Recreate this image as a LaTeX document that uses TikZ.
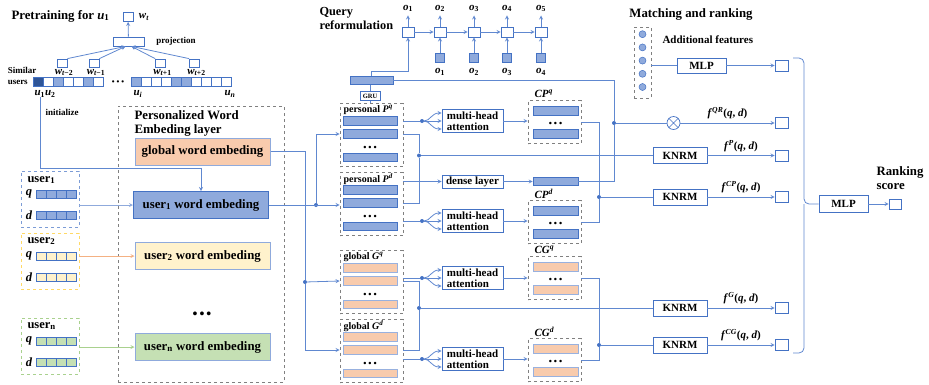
\documentclass[tikz,border=0pt]{standalone}
\usepackage{amsmath}
\usepackage{fontspec}
\setmainfont{Liberation Serif}
\usepackage{tikz}
\usetikzlibrary{positioning,arrows}
\definecolor{wireblue}{RGB}{96,136,208}
\definecolor{barblue}{RGB}{143,170,220}
\definecolor{edgeblue}{RGB}{68,114,196}
\definecolor{darkblue}{RGB}{47,85,151}
\definecolor{peach}{RGB}{248,203,173}
\definecolor{cream}{RGB}{255,242,204}
\definecolor{creamedge}{RGB}{255,217,102}
\definecolor{mint}{RGB}{197,224,180}
\definecolor{mintedge}{RGB}{169,209,142}
\definecolor{orangeline}{RGB}{244,177,131}
\definecolor{framegray}{RGB}{128,128,128}
\newcommand{\bigdots}{\textbullet\hspace{2pt}\textbullet\hspace{2pt}\textbullet}
\newcommand{\fs}[2]{\fontsize{#1}{#2}\selectfont\bfseries}
\newcommand{\vi}[1]{\textit{#1}}
\newcommand{\vsub}[2]{\textit{#1}\textsubscript{#2}}
\newcommand{\vsup}[2]{\textit{#1}\textsuperscript{\textit{#2}}}
\newcommand{\score}[1]{\vsup{f}{#1}(\vi{q}, \vi{d})}

\begin{document}
\begin{tikzpicture}[x=1pt,y=-1pt,font=\fs{11}{13}]
    \tikzstyle{wire} = [draw=wireblue, line width=0.8pt]
    \tikzstyle{arrow} = [wire,->,>=stealth]
    \tikzstyle{dframe} = [draw=framegray, dashed, line width=0.7pt, inner sep=0pt]
    \tikzstyle{box} = [draw=edgeblue, fill=white, line width=0.8pt, inner sep=1pt]
    \tikzstyle{bbar} = [draw=edgeblue, fill=barblue, line width=0.6pt, minimum width=54pt, minimum height=8.5pt, inner sep=0pt]
    \tikzstyle{obar} = [bbar, draw=edgeblue!55, fill=peach]
    \tikzstyle{cell} = [draw=edgeblue, line width=0.5pt, minimum width=10pt, minimum height=8.5pt, inner sep=0pt]
    \tikzstyle{sq} = [draw=edgeblue, line width=0.8pt, minimum width=13pt, minimum height=11pt, inner sep=0pt]
    \tikzstyle{jdot} = [circle, fill=edgeblue, inner sep=0pt, minimum size=4pt]
    \tikzstyle{emb} = [draw=barblue, line width=1pt, minimum width=135pt, minimum height=27pt, font=\fs{12.8}{13}]
    \tikzstyle{mha} = [box, align=left, minimum width=61pt, minimum height=23pt, font=\fs{11}{11.5}]
    \tikzstyle{txts} = [font=\fs{9}{10.5}]
    \tikzstyle{mlab} = [font=\fs{11}{11}]
    \tikzstyle{flab} = [above=0pt, font=\fs{11}{11}]
    \useasboundingbox (0,0) rectangle (929,384);

    % pretraining for u1
    \node[anchor=west, font=\fs{12.8}{13}] (pt) at (8,16) {Pretraining for \vsub{u}{1}};
    \node[sq, minimum width=10pt, minimum height=9pt] (wt) at (128,17) {};
    \node[mlab] (wtl) [right=2pt of wt] {\vsub{w}{\textit{t}}};
    \node[box, minimum width=31pt, minimum height=9pt, inner sep=0pt] (proj) at (128.5,41.5) {};
    \node[txts] (projl) at (176,41) {projection};
    \node[sq, minimum width=10pt, minimum height=8pt] (c1) at (62,63) {};
    \node[sq, minimum width=10pt, minimum height=8pt] (c2) at (94,63) {};
    \node[sq, minimum width=10pt, minimum height=8pt] (c3) at (160.5,63) {};
    \node[sq, minimum width=10pt, minimum height=8pt] (c4) at (194.5,63) {};
    \node[mlab] (c1l) at (64,72.5) {\vsub{w}{\textit{t}−2}};
    \node[mlab] (c2l) at (96,72.5) {\vsub{w}{\textit{t}−1}};
    \node[mlab] (c3l) at (162.5,72.5) {\vsub{w}{\textit{t}+1}};
    \node[mlab] (c4l) at (196.5,72.5) {\vsub{w}{\textit{t}+2}};
    \draw[arrow] (c1.north east) -- ([xshift=-3pt]proj.south);
    \draw[arrow] (c2.north east) -- ([xshift=-3pt]proj.south);
    \draw[arrow] (c3.north west) -- ([xshift=3pt]proj.south);
    \draw[arrow] (c4.north west) -- ([xshift=3pt]proj.south);
    \draw[arrow] (proj) -- (wt);
    \node[txts, align=left] (sim) at (22,76) {Similar\\users};
    \foreach \i/\c in {1/darkblue,2/white,3/barblue,4/white,5/white,6/barblue,7/white}
        \node[cell, fill=\c] (ul\i) at (28+10*\i,81.5) {};
    \foreach \i/\c in {1/barblue,2/white,3/white,4/white,5/barblue,6/barblue,7/white,8/white,9/white,10/white}
        \node[cell, fill=\c] (ur\i) at (126+10*\i,81.5) {};
    \node[font=\fs{8}{8}] (sdots) at (118,83) {\bigdots};
    \node[mlab] (u12) at (45,94) {\vsub{u}{1}\vsub{u}{2}};
    \node[mlab] (ui) at (138,94) {\vsub{u}{\textit{i}}};
    \node[mlab] (un) at (230,94) {\vsub{u}{\textit{n}}};
    \node[txts] (inil) at (62,112) {initialize};

    % personalized word embedding layer
    \node[dframe, minimum width=166pt, minimum height=276pt] (pwe) at (201,244) {};
    \node[anchor=north west, align=left, font=\fs{12.8}{14}] (pwel) at (131,107) {Personalized Word\\Embeding layer};
    \node[emb, fill=peach] (ge) at (202.5,151.5) {global word embeding};
    \node[emb, fill=barblue, draw=edgeblue] (e1) at (201,205) {user\textsubscript{1} word embeding};
    \node[emb, fill=cream] (e2) at (202.5,256) {user\textsubscript{2} word embeding};
    \node[font=\fs{14}{14}] (edots) at (202,315) {\bigdots};
    \node[emb, fill=mint] (en) at (202.5,347) {user\textsubscript{n} word embeding};
    \coordinate (ini) at (40,97);
    \draw[arrow] (ini) |- ([yshift=23pt]e1.north) -- (e1.north);

    % users
    \node[dframe, draw=edgeblue!70, minimum width=58pt, minimum height=56pt] (ub1) at (50,199) {};
    \node[dframe, draw=creamedge, minimum width=58pt, minimum height=56pt] (ub2) at (50,261) {};
    \node[dframe, draw=mintedge, minimum width=58pt, minimum height=56pt] (ubn) at (50,346) {};
    \node[anchor=west, font=\fs{12.5}{13}] (un1) at (24,180) {user\textsubscript{1}};
    \node[anchor=west, font=\fs{12.5}{13}] (un2) at (24,241) {user\textsubscript{2}};
    \node[anchor=west, font=\fs{12.5}{13}] (unn) at (24,326) {user\textsubscript{n}};
    \foreach \yy/\c/\t [count=\k] in {194/barblue/q,215/barblue/d,256/cream/q,277/cream/d,341/mint/q,362/mint/d} {
        \node[font=\fs{12.5}{12.5}] (lab\k) at (29,\yy) {\vi{\t}};
        \foreach \i in {1,...,4}
            \node[cell, fill=\c] (uv\k-\i) at (31+10*\i,\yy) {};
    }
    \draw[arrow, draw=barblue] (ub1.east |- e1) -- (e1);
    \draw[arrow, draw=orangeline] (ub2.east |- e2) -- (e2);
    \draw[arrow, draw=mintedge] (ubn.east |- en) -- (en);

    % personal and global representations
    \foreach \n/\t/\c/\s in {Pq/{personal \vsup{P}{q}}/135/bbar, Pd/{personal \vsup{P}{d}}/204/bbar, Gq/{global \vsup{G}{q}}/282/obar, Gd/{global \vsup{G}{d}}/351/obar} {
        \node[dframe, minimum width=63pt, minimum height=63pt] (\n) at (371.5,\c) {};
        \node[anchor=west, font=\fs{10}{10}] (\n-t) at (340,\c-25) {\t};
        \node[\s] (\n1) at (370,\c-14) {};
        \node[\s] (\n2) at (370,\c-1) {};
        \node[font=\fs{9}{9}] (\n-d) at (370,\c+13) {\bigdots};
        \node[\s] (\n3) at (370,\c+22.5) {};
    }
    \node[jdot] (j1) at (316,205) {};
    \draw[arrow] (e1) -- (Pd.west |- e1);
    \draw[arrow] (j1) |- (Pq.west |- Pq2);
    \node[jdot] (j2) at (305,282) {};
    \draw[wire] (ge) -| (j2);
    \draw[arrow] (j2) -- (Gq.west |- Gq2);
    \draw[arrow] (j2) |- (Gd.west |- Gd2);

    % query reformulation
    \node[anchor=west, align=left, font=\fs{12.3}{13.5}] (qrl) at (316,18.5) {Query\\reformulation};
    \node[box, font=\fs{6.5}{7}, minimum width=20pt, minimum height=9pt, inner sep=0pt] (gru) at (370,96) {GRU};
    \node[bbar, minimum width=43pt] (gb) at (371.5,80.5) {};
    \draw[wire] (gru) -- (gru |- Pq.north);
    \draw[wire] (gru) -- (gru |- gb.south);
    \foreach \i/\x in {1/408,2/440,3/474,4/507,5/541} {
        \node[box, minimum width=12pt, minimum height=10pt, inner sep=0pt] (g\i) at (\x,32) {};
        \node[mlab] (o\i) at (\x,8.5) {\vsub{o}{\i}};
        \draw[arrow] (g\i) -- (o\i);
    }
    \foreach \i/\j/\x in {2/1/440,3/2/474,4/3/507,5/4/541} {
        \node[bbar, minimum width=9pt, minimum height=9pt] (x\i) at (\x,58) {};
        \node[mlab] (xl\i) at (\x,72) {\vsub{o}{\j}};
        \draw[arrow] (x\i) -- (g\i);
    }
    \foreach \i/\j in {1/2,2/3,3/4,4/5}
        \draw[arrow] (g\i) -- (g\j);
    \draw[arrow] (gb.north) |- ([yshift=-34pt]g1.south) -- (g1.south);

    % attention and context
    \foreach \n/\t/\c/\s in {CPq/{\vsup{CP}{q}}/122/bbar, CPd/{\vsup{CP}{d}}/222/bbar, CGq/{\vsup{CG}{q}}/278/obar, CGd/{\vsup{CG}{d}}/360/obar} {
        \node[dframe, minimum width=53pt, minimum height=43pt] (\n) at (554.5,\c) {};
        \node[anchor=west, font=\fs{11}{11}] (\n-t) at (531,\c-28) {\t};
        \node[\s, minimum width=45pt] (\n1) at (555.5,\c-11) {};
        \node[font=\fs{9}{9}] (\n-d) at (555.5,\c+2.5) {\bigdots};
        \node[\s, minimum width=45pt] (\n2) at (555.5,\c+12) {};
    }
    \foreach \n/\s/\t/\y in {m1/Pq/CPq/121, m2/Pd/CPd/221, m3/Gq/CGq/278, m4/Gd/CGd/359} {
        \node[mha] (\n) at (472.5,\y) {multi-head\\attention};
        \node[jdot] (f\n) at (422,\y) {};
        \draw[wire] (\s.east |- f\n) -- (f\n);
        \draw[arrow] (f\n) .. controls +(8,0) and +(-10,0) .. ([yshift=8pt]\n.west);
        \draw[arrow] (f\n) -- (\n.west);
        \draw[arrow] (f\n) .. controls +(8,0) and +(-10,0) .. ([yshift=-8pt]\n.west);
        \draw[arrow] (\n.east) -- (\t.west |- \n.east);
    }
    \node[box, minimum width=61pt, minimum height=13pt, inner sep=0pt] (dl) at (472.5,181.5) {dense layer};
    \node[bbar, minimum width=45pt] (db) at (555.5,181.5) {};
    \draw[arrow] (Pd.east |- dl) -- (dl);
    \draw[arrow] (dl) -- (db);

    % matching and ranking
    \node[font=\fs{12.8}{13}] (mr) at (691,14) {Matching and ranking};
    \node[dframe, minimum width=17pt, minimum height=71pt] (af) at (642.5,62.5) {};
    \foreach \i in {1,...,5}
        \node[circle, fill=barblue, draw=edgeblue, line width=0.5pt, minimum size=7pt, inner sep=0pt] (af\i) at (642.5,21+13.2*\i) {};
    \node[anchor=west, font=\fs{11}{11}] (afl) at (659,40) {Additional features};
    \node[box, minimum width=49pt, minimum height=15pt] (mlp1) at (701.5,65.5) {MLP};
    \node[sq] (sqa) at (781.5,65.5) {};
    \draw[wire] (af.east |- mlp1) -- (mlp1);
    \draw[arrow] (mlp1) -- (sqa);

    \node[circle, draw=edgeblue, line width=0.7pt, minimum size=13pt, inner sep=0pt] (ot) at (673.5,123) {};
    \draw[edgeblue, line width=0.5pt] (ot.north west) -- (ot.south east) (ot.north east) -- (ot.south west);
    \node[sq] (sqq) at (781.5,123) {};
    \foreach \n/\s/\y in {k1/sqp/155.5, k2/sqc/197, k3/sqg/308, k4/sqs/345} {
        \node[box, minimum width=54pt, minimum height=16pt] (\n) at (680,\y) {KNRM};
        \node[sq] (\s) at (781.5,\y) {};
    }
    \draw[arrow] (ot) -- node[flab] (fqr) {\score{QR}} (sqq);
    \draw[arrow] (k1) -- node[flab] (fp) {\score{P}} (sqp);
    \draw[arrow] (k2) -- node[flab] (fcp) {\score{CP}} (sqc);
    \draw[arrow] (k3) -- node[flab] (fg) {\score{G}} (sqg);
    \draw[arrow] (k4) -- node[flab] (fcg) {\score{CG}} (sqs);

    \node[jdot] (jqr) at (614,123) {};
    \draw[wire] (gb) -| (jqr) |- (db);
    \draw[wire] (jqr) -- (ot);
    \node[jdot] (jp) at (419,155.5) {};
    \draw[wire] (Pq.east |- Pq2) -| (jp) |- (Pd.east |- Pd2);
    \draw[wire] (jp) -- (k1);
    \node[jdot] (jg) at (419,308) {};
    \draw[wire] (Gq.east |- Gq2) -| (jg) |- (Gd.east |- Gd2);
    \draw[wire] (jg) -- (k3);
    \node[jdot] (jcp) at (599,197) {};
    \draw[wire] (CPq) -| (jcp);
    \draw[wire] (CPd) -| (jcp);
    \draw[wire] (jcp) -- (k2);
    \node[jdot] (jcg) at (599,345) {};
    \draw[wire] (CGq) -| (jcg);
    \draw[wire] (CGd) -| (jcg);
    \draw[wire] (jcg) -- (k4);

    \node[box, minimum width=49pt, minimum height=17pt] (mlp2) at (843.5,204) {MLP};
    \node[sq, minimum width=12pt, minimum height=10pt] (rs) at (895,204) {};
    \node[anchor=west, align=left, font=\fs{12.8}{14}] (rsl) at (873,178) {Ranking\\score};
    \draw[wire, rounded corners=5pt] (793,58) -| (804,204) -- (mlp2.west);
    \draw[wire, rounded corners=5pt] (793,353) -| (804,204);
    \draw[arrow] (mlp2) -- (rs);
\end{tikzpicture}
\end{document}
